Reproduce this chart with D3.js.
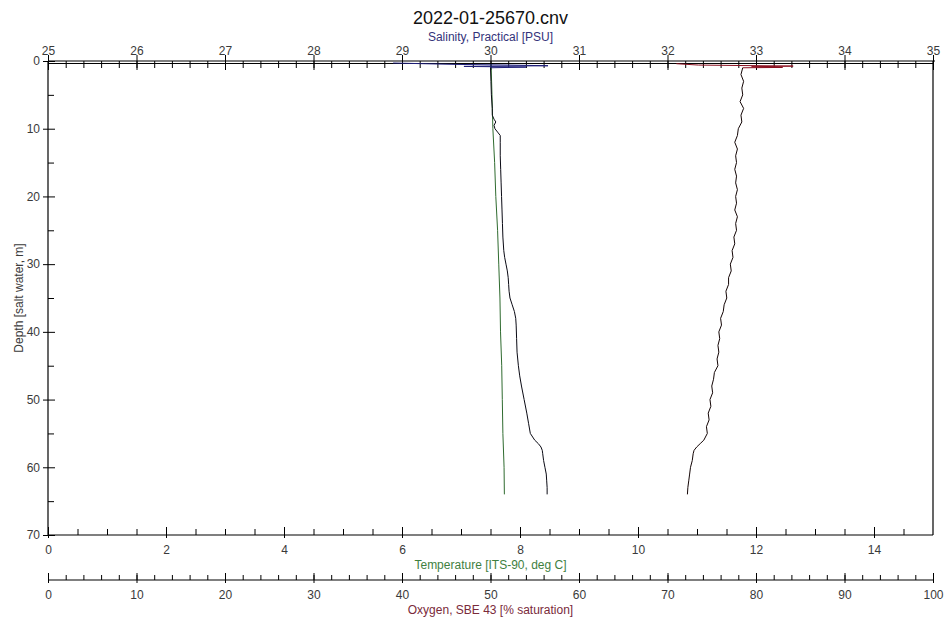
<!DOCTYPE html>
<html>
<head>
<meta charset="utf-8">
<script src="https://cdn.jsdelivr.net/npm/d3@7"></script>
<style>
body{margin:0;background:#fff;}
text{font-family:"Liberation Sans",Arial,sans-serif;}
</style>
</head>
<body>
<svg id="chart"></svg>
<script>
//salinity profile (main trace)
var salDepth = [1,3,5,7,8,8.6,9,9.5,10,10.5,11,12,14,16,18,20,22,24,26,28,29,30,31,32,33,34,35,36,37,38,39,41,43,45,46.5,48,50,52,53.5,55,56,56.5,57,57.5,58,59,60,61,62,63,64]
var salValue = [30.0,30.005,30.01,30.02,30.02,30.04,30.06,30.04,30.05,30.08,30.11,30.11,30.11,30.115,30.12,30.125,30.13,30.135,30.14,30.15,30.16,30.175,30.19,30.2,30.205,30.21,30.22,30.245,30.27,30.285,30.29,30.295,30.3,30.315,30.33,30.35,30.38,30.41,30.43,30.45,30.5,30.54,30.57,30.585,30.59,30.6,30.615,30.63,30.635,30.64,30.64]
//salinity near the surface
var salSurfDepth = [0.3,0.4,0.5,0.6,0.7,0.8,0.9,1.0]
var salSurfValue = [28.9,29.25,29.6,30.2,30.65,29.7,30.4,30.0]

//temperature profile
var tempDepth = [0.5,5,10,15,20,25,30,35,40,45,50,55,60,64]
var tempValue = [7.51,7.525,7.54,7.57,7.59,7.62,7.64,7.66,7.67,7.69,7.7,7.71,7.73,7.735]

//oxygen profile
var oxyDepth = [1,2,3,4,5,6,7,8,9,10,11,12,13,14,15,16,17,18,19,20,21,22,23,24,25,26,27,28,29,30,31,32,33,34,35,36,37,38,39,40,41,42,43,44,45,46,47,48,49,50,51,52,53,54,55,56,56.5,57,57.5,58,59,60,61,62,63,64]
var oxyValue = [78.5,78.3,78.6,78.4,78.5,78.2,78.6,78.3,78.4,78.0,77.9,77.6,77.9,77.7,77.8,77.6,77.8,77.7,77.9,77.7,77.8,77.6,77.9,77.7,77.8,77.5,77.6,77.3,77.4,77.1,77.2,76.9,76.9,76.6,76.7,76.4,76.3,76.0,76.1,75.8,75.9,75.7,75.8,75.6,75.7,75.3,75.2,75.0,75.1,74.8,74.9,74.6,74.7,74.4,74.5,74.1,73.7,73.3,73.0,72.9,72.8,72.6,72.5,72.4,72.3,72.25]
var oxySurfDepth = [0.4,0.6,0.75,0.85,0.95,1.0]
var oxySurfValue = [71,73.5,84.2,79.5,83,78.5]

var depthTicks = [0,10,20,30,40,50,60,70]
var salTicks = [25,26,27,28,29,30,31,32,33,34,35]
var tempTicks = [0,2,4,6,8,10,12,14]
var oxyTicks = [0,10,20,30,40,50,60,70,80,90,100]

var screen = {width:944, height:623}
var plot = {left:48, right:933, top:61, bottom:535}
var oxyAxisY = 580

var svg = d3.select("#chart")
    .attr("width",screen.width)
    .attr("height",screen.height)

var yScale = d3.scaleLinear().domain([0,70]).range([plot.top,plot.bottom])
var salScale = d3.scaleLinear().domain([25,35]).range([plot.left,plot.right])
var tempScale = d3.scaleLinear().domain([0,15]).range([plot.left,plot.right])
var oxyScale = d3.scaleLinear().domain([0,100]).range([plot.left,plot.right])

var pairs = function(depths, values)
{
    return depths.map(function(d,i){return {depth:d, value:values[i]}})
}

var drawLine = function(depths, values, xScale, color)
{
    var line = d3.line()
        .x(function(p){return xScale(p.value)})
        .y(function(p){return yScale(p.depth)})
    svg.append("path")
        .datum(pairs(depths,values))
        .attr("d",line)
        .attr("fill","none")
        .attr("stroke",color)
        .attr("stroke-width",1)
}

//styles an axis group: no domain path, dark tick lines, grey labels
var styleAxis = function(g)
{
    g.select(".domain").remove()
    g.selectAll("line").attr("stroke","#000")
    g.selectAll("text")
        .attr("fill","#3a3a3a")
        .style("font-size","12px")
        .style("font-family","'Liberation Sans',Arial,sans-serif")
}

// frame lines
var frame = svg.append("g").attr("stroke","#000").attr("stroke-width",1.2)
frame.append("line").attr("x1",plot.left).attr("x2",plot.left).attr("y1",plot.top).attr("y2",plot.bottom)
frame.append("line").attr("x1",plot.right).attr("x2",plot.right).attr("y1",plot.top).attr("y2",plot.bottom)
frame.append("line").attr("x1",plot.left).attr("x2",plot.right).attr("y1",plot.bottom).attr("y2",plot.bottom)
frame.append("line").attr("x1",plot.left).attr("x2",plot.right+2).attr("y1",plot.top).attr("y2",plot.top)
frame.append("line").attr("x1",plot.left).attr("x2",plot.right).attr("y1",plot.top+2.5).attr("y2",plot.top+2.5)
frame.append("line").attr("x1",plot.left).attr("x2",plot.right).attr("y1",oxyAxisY).attr("y2",oxyAxisY)

// salinity axis on top
svg.append("g")
    .attr("transform","translate(0,"+plot.top+")")
    .call(d3.axisTop(salScale).tickValues(d3.range(25,35.01,0.2)).tickSize(-7).tickSizeOuter(0).tickFormat(""))
    .call(styleAxis)
svg.append("g")
    .attr("transform","translate(0,"+plot.top+")")
    .call(d3.axisTop(salScale).tickValues(salTicks).tickSize(6).tickPadding(0).tickSizeOuter(0))
    .call(styleAxis)
    .call(function(g){g.selectAll("line").attr("y1",9)})

// depth axis on the left
svg.append("g")
    .attr("transform","translate("+plot.left+",0)")
    .call(d3.axisLeft(yScale).tickValues(d3.range(5,70,10)).tickSize(-6).tickSizeOuter(0).tickFormat(""))
    .call(styleAxis)
svg.append("g")
    .attr("transform","translate("+plot.left+",0)")
    .call(d3.axisLeft(yScale).tickValues(depthTicks).tickSize(5).tickPadding(3).tickSizeOuter(0))
    .call(styleAxis)
    .call(function(g){g.selectAll("line").attr("x1",7)})

// temperature axis
svg.append("g")
    .attr("transform","translate(0,"+plot.bottom+")")
    .call(d3.axisBottom(tempScale).tickValues(d3.range(0,15,0.5)).tickSize(-6).tickSizeOuter(0).tickFormat(""))
    .call(styleAxis)
svg.append("g")
    .attr("transform","translate(0,"+plot.bottom+")")
    .call(d3.axisBottom(tempScale).tickValues(tempTicks).tickSize(3).tickPadding(7).tickSizeOuter(0))
    .call(styleAxis)
    .call(function(g){g.selectAll("line").attr("y1",-8)})

// oxygen axis
svg.append("g")
    .attr("transform","translate(0,"+oxyAxisY+")")
    .call(d3.axisBottom(oxyScale).tickValues(d3.range(0,100,2)).tickSize(-5).tickSizeOuter(0).tickFormat(""))
    .call(styleAxis)
svg.append("g")
    .attr("transform","translate(0,"+oxyAxisY+")")
    .call(d3.axisBottom(oxyScale).tickValues(oxyTicks).tickSize(3).tickPadding(7).tickSizeOuter(0))
    .call(styleAxis)
    .call(function(g){g.selectAll("line").attr("y1",-7)})

// profiles
drawLine(tempDepth,tempValue,tempScale,"#2f6b2f")
drawLine(salSurfDepth,salSurfValue,salScale,"#1f1f7a")
drawLine(salDepth,salValue,salScale,"#0a0a14")
drawLine(oxySurfDepth,oxySurfValue,oxyScale,"#8a1020")
drawLine(oxyDepth,oxyValue,oxyScale,"#140606")

// titles
svg.append("text")
    .attr("x",(plot.left+plot.right)/2).attr("y",24)
    .attr("text-anchor","middle")
    .style("font-size","18px")
    .attr("fill","#111")
    .text("2022-01-25670.cnv")

svg.append("text")
    .attr("x",(plot.left+plot.right)/2).attr("y",41)
    .attr("text-anchor","middle")
    .style("font-size","12px")
    .attr("fill","#33337a")
    .text("Salinity, Practical [PSU]")

svg.append("text")
    .attr("x",(plot.left+plot.right)/2).attr("y",569)
    .attr("text-anchor","middle")
    .style("font-size","12px")
    .attr("fill","#3f7f3f")
    .text("Temperature [ITS-90, deg C]")

svg.append("text")
    .attr("x",(plot.left+plot.right)/2).attr("y",614)
    .attr("text-anchor","middle")
    .style("font-size","12px")
    .attr("fill","#7a2a3a")
    .text("Oxygen, SBE 43 [% saturation]")

svg.append("text")
    .attr("transform","translate(23,"+((plot.top+plot.bottom)/2)+") rotate(-90)")
    .attr("text-anchor","middle")
    .style("font-size","12px")
    .attr("fill","#3a3a3a")
    .text("Depth [salt water, m]")
</script>
</body>
</html>
